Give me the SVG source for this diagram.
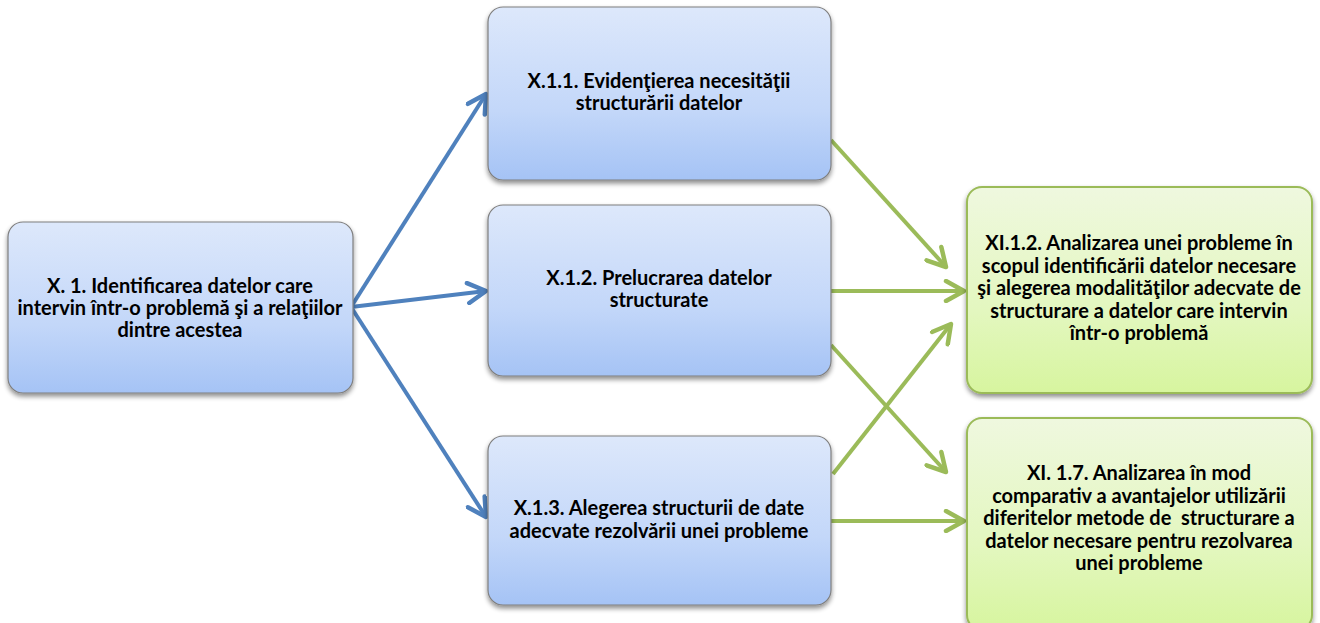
<svg xmlns="http://www.w3.org/2000/svg" width="1320" height="623" viewBox="0 0 1320 623">
<defs>
<linearGradient id="gb" x1="0" y1="0" x2="0" y2="1">
<stop offset="0" stop-color="#dde8fb"/><stop offset="0.6" stop-color="#c3d7f9"/><stop offset="1" stop-color="#a5c3f5"/>
</linearGradient>
<linearGradient id="gg" x1="0" y1="0" x2="0" y2="1">
<stop offset="0" stop-color="#eff8df"/><stop offset="0.6" stop-color="#e3f7bf"/><stop offset="1" stop-color="#d7f59f"/>
</linearGradient>
<filter id="sh" x="-10%" y="-10%" width="120%" height="130%">
<feGaussianBlur in="SourceAlpha" stdDeviation="2.5"/>
<feOffset dx="0" dy="3" result="b"/>
<feComponentTransfer><feFuncA type="linear" slope="0.45"/></feComponentTransfer>
<feMerge><feMergeNode/><feMergeNode in="SourceGraphic"/></feMerge>
</filter>
<marker id="ab" viewBox="0 0 24 24" refX="21" refY="12" markerWidth="24" markerHeight="24" markerUnits="userSpaceOnUse" orient="auto">
<path d="M3,2 L21,12 L3,22" fill="none" stroke="#4f81bd" stroke-width="4.5" stroke-linecap="round" stroke-linejoin="round"/>
</marker>
<marker id="ag" viewBox="0 0 24 24" refX="21" refY="12" markerWidth="24" markerHeight="24" markerUnits="userSpaceOnUse" orient="auto">
<path d="M3,2 L21,12 L3,22" fill="none" stroke="#9bbb59" stroke-width="4.5" stroke-linecap="round" stroke-linejoin="round"/>
</marker>
</defs>
<style>
.bb{fill:url(#gb);stroke:#7f7f7f;stroke-width:1.2;filter:url(#sh)}
.gb{fill:url(#gg);stroke:#9bbb59;stroke-width:2;filter:url(#sh)}
text{font-family:Lato,"Liberation Sans",sans-serif;font-weight:bold;font-size:20px;fill:#000;text-anchor:middle}
.cb{fill:none;stroke:#4f81bd;stroke-width:4;marker-end:url(#ab)}
.cg{fill:none;stroke:#9bbb59;stroke-width:4;marker-end:url(#ag)}
</style>
<g id="connectors">
<line class="cb" x1="351" y1="307" x2="486" y2="94"/>
<line class="cb" x1="351" y1="307" x2="486" y2="291"/>
<line class="cb" x1="351" y1="307" x2="486" y2="517"/>
<line class="cg" x1="831" y1="140" x2="946" y2="267"/>
<line class="cg" x1="831" y1="291" x2="964" y2="291"/>
<line class="cg" x1="833" y1="474" x2="951" y2="324"/>
<line class="cg" x1="831" y1="345" x2="946" y2="472"/>
<line class="cg" x1="831" y1="521" x2="964" y2="521"/>
</g>
<g id="n-x1">
<rect class="bb" x="8" y="222" width="345" height="171" rx="15"/>
<text x="180" y="293">X. 1. Identificarea datelor care</text>
<text x="180" y="315">intervin într-o problemă şi a relaţiilor</text>
<text x="180" y="337">dintre acestea</text>
</g>
<g id="n-x11">
<rect class="bb" x="488" y="7" width="343" height="173" rx="15"/>
<text x="659" y="88">X.1.1. Evidenţierea necesităţii</text>
<text x="659" y="110">structurării datelor</text>
</g>
<g id="n-x12">
<rect class="bb" x="488" y="205" width="343" height="171" rx="15"/>
<text x="659" y="285">X.1.2. Prelucrarea datelor</text>
<text x="659" y="307">structurate</text>
</g>
<g id="n-x13">
<rect class="bb" x="488" y="436" width="343" height="169" rx="15"/>
<text x="659" y="515">X.1.3. Alegerea structurii de date</text>
<text x="659" y="538">adecvate rezolvării unei probleme</text>
</g>
<g id="n-xi12">
<rect class="gb" x="967" y="187" width="345" height="206" rx="15"/>
<text x="1139" y="250">XI.1.2. Analizarea unei probleme în</text>
<text x="1139" y="273">scopul identificării datelor necesare</text>
<text x="1139" y="295">şi alegerea modalităţilor adecvate de</text>
<text x="1139" y="318">structurare a datelor care intervin</text>
<text x="1139" y="340">într-o problemă</text>
</g>
<g id="n-xi17">
<rect class="gb" x="967" y="418" width="345" height="212" rx="15"/>
<text x="1139" y="480">XI. 1.7. Analizarea în mod</text>
<text x="1139" y="503">comparativ a avantajelor utilizării</text>
<text x="1139" y="525" xml:space="preserve">diferitelor metode de  structurare a</text>
<text x="1139" y="548">datelor necesare pentru rezolvarea</text>
<text x="1139" y="570">unei probleme</text>
</g>
</svg>
